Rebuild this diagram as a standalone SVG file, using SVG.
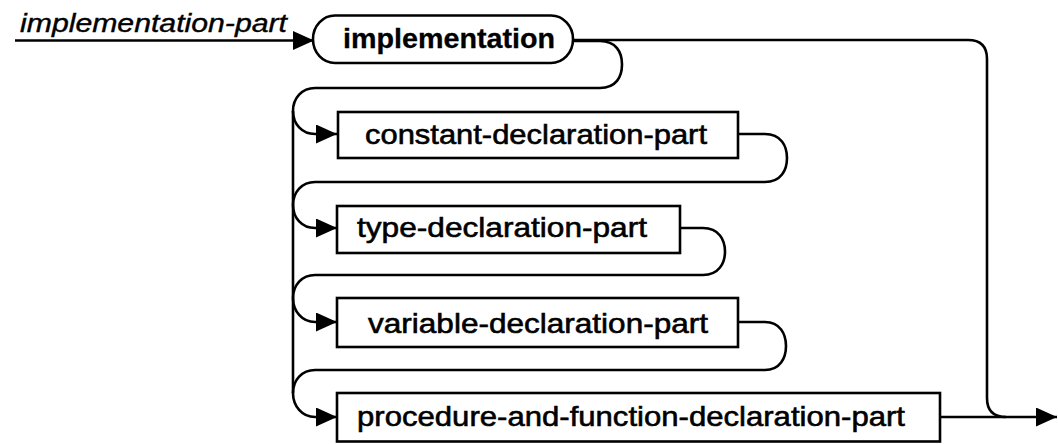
<svg xmlns="http://www.w3.org/2000/svg" width="1058" height="444" viewBox="0 0 1058 444">
<style>
.ln{fill:none;stroke:#000;stroke-width:2.6;stroke-linejoin:round}
.bx{fill:#fff;stroke:#000;stroke-width:2.6}
.t{font-family:"Liberation Sans",Arial,sans-serif;font-size:28px;fill:#000;stroke:#000;stroke-width:0.6}
.b{font-weight:bold;stroke-width:0.3}
.i{font-style:italic;font-size:26px;stroke-width:0.4}
</style>
<defs>
<marker id="ah" viewBox="0 0 21 19" refX="21" refY="9.5" markerWidth="21" markerHeight="19" markerUnits="userSpaceOnUse" orient="auto">
<path d="M0,0 L21,9.5 L0,19 Z" fill="#000"/>
</marker>
</defs>
<rect width="1058" height="444" fill="#fff"/>
<g id="connectors">
<path class="ln" d="M15,40.5 H314" marker-end="url(#ah)"/>
<path class="ln" d="M573,40 H968 Q987,40 987,59 V398 Q987,417 1006,417"/>
<path class="ln" d="M940,417 H1057" marker-end="url(#ah)"/>
<path class="ln" d="M573,41 H600 C616,41 622,52 622,64.5 C622,77 616,88 600,88 H315 C302,88 293,98 293,111 C293,124 302,134 315,134 H337" marker-end="url(#ah)"/>
<path class="ln" d="M738,134 H765 C781,134 787,146 787,158 C787,170 781,182 765,182 H315 C302,182 293,192 293,205 C293,218 302,228 315,228 H337" marker-end="url(#ah)"/>
<path class="ln" d="M680,228 H703 C719,228 725,240 725,251.5 C725,263 719,275 703,275 H315 C302,275 293,285 293,298 C293,311 302,322 315,322 H337" marker-end="url(#ah)"/>
<path class="ln" d="M738,322 H765 C780,322 786,334 786,346 C786,358 780,370 765,370 H315 C302,370 293,380 293,393 C293,406 302,417 315,417 H337" marker-end="url(#ah)"/>
<path class="ln" d="M293,111 V393"/>
</g>
<g id="label-implementation-part">
<text class="t i" x="20" y="32" textLength="267" lengthAdjust="spacingAndGlyphs">implementation-part</text>
</g>
<g id="node-implementation">
<rect class="bx" x="313" y="15.5" width="260" height="47.5" rx="22" ry="23.5"/>
<text class="t b" x="343" y="48" textLength="212" lengthAdjust="spacingAndGlyphs">implementation</text>
</g>
<g id="node-constant">
<rect class="bx" x="338" y="112" width="400" height="46"/>
<text class="t" x="365" y="144" textLength="342" lengthAdjust="spacingAndGlyphs">constant-declaration-part</text>
</g>
<g id="node-type">
<rect class="bx" x="337" y="206" width="343" height="47"/>
<text class="t" x="357" y="237" textLength="290" lengthAdjust="spacingAndGlyphs">type-declaration-part</text>
</g>
<g id="node-variable">
<rect class="bx" x="337" y="298" width="401" height="49"/>
<text class="t" x="368" y="333" textLength="340" lengthAdjust="spacingAndGlyphs">variable-declaration-part</text>
</g>
<g id="node-procedure">
<rect class="bx" x="337" y="393" width="603" height="48.5"/>
<text class="t" x="357" y="426" textLength="548" lengthAdjust="spacingAndGlyphs">procedure-and-function-declaration-part</text>
</g>
</svg>
